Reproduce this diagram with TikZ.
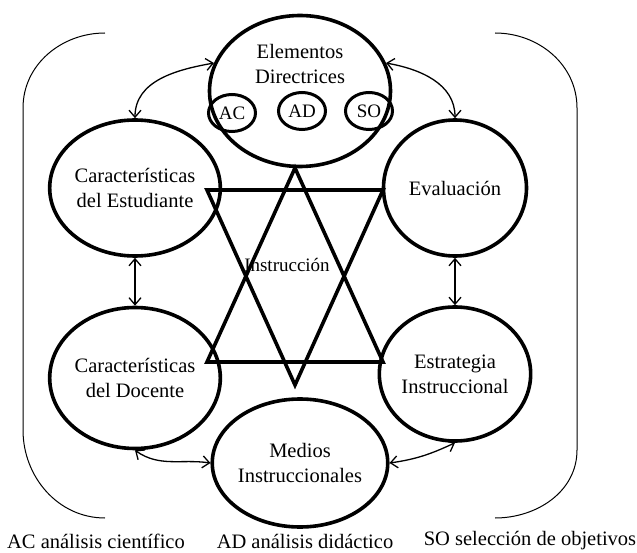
\documentclass[tikz,border=0pt]{standalone}
\usepackage{fontspec}
\setmainfont{Liberation Serif}
\usetikzlibrary{shapes.geometric, arrows.meta}

\begin{document}
\begin{tikzpicture}[x = 1pt, y = 1pt,
    bubble/.style = {ellipse, draw, line width = 3.6pt, inner sep = 0pt, align = center,
      font = \fontsize{20.5}{25}\selectfont},
    tag/.style = {ellipse, draw, line width = 3pt, inner sep = 0pt,
      minimum width = 47pt, minimum height = 37pt, font = \fontsize{19}{22}\selectfont},
    txt/.style = {align = center, inner sep = 0pt, font = \fontsize{20.5}{25}\selectfont},
    link/.style = {line width = 1.3pt,
      {Straight Barb[length = 7pt, width = 12pt]}-{Straight Barb[length = 7pt, width = 12pt]}},
    brace/.style = {line width = 1pt}]
  \useasboundingbox (0,0) rectangle (637,552);
  % central ellipse with the three tags
  \node [bubble, minimum width = 181pt, minimum height = 151pt] (elem) at (300,461) {};
  \node [txt] (elemtxt) at (300,488) {Elementos\\Directrices};
  \node [tag] (ac) at (232,439) {AC};
  \node [tag] (ad) at (302,441) {AD};
  \node [tag] (so) at (369,441) {SO};
  % the four side circles and the bottom one
  \node [bubble, minimum width = 143pt, minimum height = 136pt] (est) at (135,364)
    {Características\\del Estudiante};
  \node [bubble, minimum width = 143pt, minimum height = 136pt] (eval) at (455,364)
    {Evaluación};
  \node [bubble, minimum width = 140pt, minimum height = 141pt] (doc) at (135,174)
    {Características\\del Docente};
  \node [bubble, minimum width = 143pt, minimum height = 134pt] (estr) at (455,178)
    {Estrategia\\Instruccional};
  \node [bubble, minimum width = 142pt, minimum height = 128pt] (med) at (300,89)
    {Medios\\Instruccionales};
  % star
  \draw [line width = 3.6pt, line join = miter]
    (295,384) coordinate (up) -- (383,190) coordinate (upr) -- (207,190) coordinate (upl) -- cycle;
  \draw [line width = 3.6pt, line join = miter]
    (207,362) coordinate (dnl) -- (383,362) coordinate (dnr) -- (295,167) coordinate (dn) -- cycle;
  \node [txt, font = \fontsize{19}{22}\selectfont] (instr) at (287,287) {Instrucción};
  % arrows
  \draw [link] (est.north) to [out = 90, in = 190] (elem.162);
  \draw [link] (eval.north) to [out = 90, in = -10] (elem.18);
  \draw [link] (est.south) -- (doc.north);
  \draw [link] (eval.south) -- (estr.north);
  \draw [link] (doc.south) to [out = -35, in = 172] (med.west);
  \draw [link] (med.east) to [out = 8, in = 205] (estr.south);
  % round brackets
  \draw [brace] (105,519) coordinate (bl1) to [out = 180, in = 90] (23,444) coordinate (bl2)
    -- (23,122) coordinate (bl3) to [out = -90, in = 180] (105,34) coordinate (bl4);
  \draw [brace] (495,519) coordinate (br1) to [out = 0, in = 90] (577,444) coordinate (br2)
    -- (577,102) coordinate (br3) to [out = -90, in = 0] (495,34) coordinate (br4);
  % legend
  \node [txt] (legac) at (96,11) {AC análisis científico};
  \node [txt] (legad) at (305,11) {AD análisis didáctico};
  \node [txt] (legso) at (530,11) {SO selección de objetivos};
\end{tikzpicture}
\end{document}
